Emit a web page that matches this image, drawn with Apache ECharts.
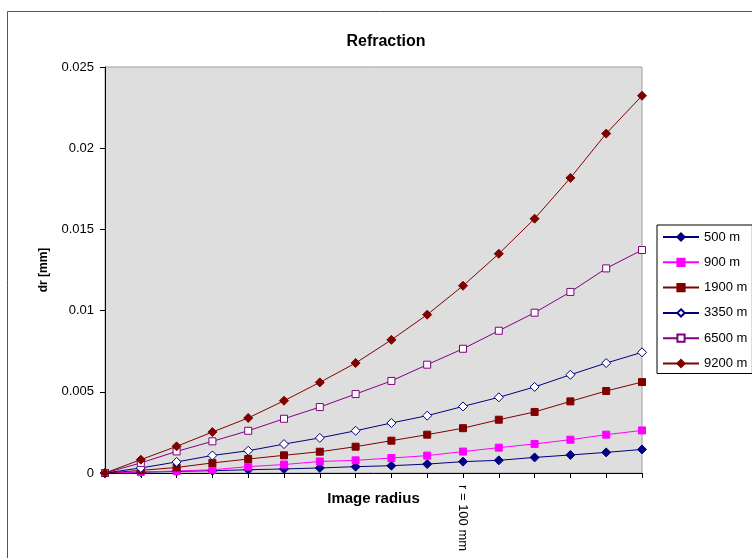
<!DOCTYPE html>
<html>
<head>
<meta charset="utf-8">
<script src="https://cdn.jsdelivr.net/npm/echarts@6/dist/echarts.min.js"></script>
<style>
  html, body { margin: 0; padding: 0; background: #ffffff; }
  #chart { width: 752px; height: 558px; }
</style>
</head>
<body>
<div id="chart"></div>
<script>
// Image radius samples (mm); only r = 100 mm gets a tick label
const radius = ['0', '10', '20', '30', '40', '50', '60', '70', '80', '90', '100', '110', '120', '130', '140', '150'];
const labelledRadius = '100';

// Radial refraction dr [mm] for each flying height
const dr500  = [0, 0.00005, 0.0001, 0.00014, 0.0002, 0.00025, 0.00031, 0.00039, 0.00045, 0.00055, 0.0007, 0.00078, 0.00096, 0.00111, 0.00127, 0.00145];
const dr900  = [0, 0.00006, 0.00012, 0.0002, 0.00039, 0.00052, 0.00071, 0.00078, 0.00092, 0.00107, 0.00132, 0.00156, 0.00179, 0.00205, 0.00236, 0.00262];
const dr1900 = [0, 0.00016, 0.00034, 0.00062, 0.00086, 0.00109, 0.00131, 0.00162, 0.00199, 0.00236, 0.00276, 0.00328, 0.00376, 0.00441, 0.00505, 0.0056];
const dr3350 = [0, 0.00031, 0.00068, 0.00108, 0.00137, 0.00178, 0.00216, 0.0026, 0.00308, 0.00353, 0.0041, 0.00466, 0.0053, 0.00605, 0.00677, 0.00743];
const dr6500 = [0, 0.00062, 0.00133, 0.00195, 0.0026, 0.00334, 0.00406, 0.00486, 0.00567, 0.00667, 0.00765, 0.00876, 0.00987, 0.01115, 0.0126, 0.01373];
const dr9200 = [0, 0.00082, 0.00164, 0.00252, 0.00339, 0.00445, 0.00558, 0.00677, 0.0082, 0.00975, 0.01153, 0.0135, 0.01566, 0.01817, 0.0209, 0.02323];

const seriesNames = ['500 m', '900 m', '1900 m', '3350 m', '6500 m', '9200 m'];
const yTicks = { min: 0, max: 0.025, interval: 0.005 };

const FONT = '"Liberation Sans", Arial, sans-serif';

function lineSeries(name, data, color, symbol, size, hollow) {
  return {
    name: name,
    type: 'line',
    data: data,
    symbol: symbol,
    symbolSize: size,
    showSymbol: true,
    lineStyle: { color: color, width: 1 },
    itemStyle: hollow
      ? { color: '#ffffff', borderColor: color, borderWidth: 1 }
      : { color: color, borderColor: color, borderWidth: 1 },
    emphasis: { disabled: true },
    animation: false,
    z: 3
  };
}

const chart = echarts.init(document.getElementById('chart'), null, { renderer: 'canvas' });

chart.setOption({
  backgroundColor: '#ffffff',
  animation: false,
  title: {
    text: 'Refraction',
    left: 381,
    top: 29,
    textAlign: 'center',
    textStyle: { fontFamily: FONT, fontSize: 16, fontWeight: 'bold', color: '#000000' }
  },
  graphic: [{
    type: 'rect',
    shape: { x: 7.5, y: 11.5, width: 900, height: 900 },
    style: { fill: 'none', stroke: '#555555', lineWidth: 1 },
    silent: true,
    z: -1
  }],
  grid: {
    left: 105, top: 67, right: 110, bottom: 85,
    show: true,
    backgroundColor: '#dedede',
    borderColor: '#a0a0a0',
    borderWidth: 1
  },
  legend: {
    orient: 'vertical',
    left: 657,
    top: 225,
    width: 93,
    padding: [5, 5, 3, 5],
    itemGap: 11.3,
    itemWidth: 36,
    itemHeight: 9,
    borderColor: '#000000',
    borderWidth: 1,
    backgroundColor: '#ffffff',
    textStyle: { fontFamily: FONT, fontSize: 13, color: '#000000', lineHeight: 14 },
    data: seriesNames
  },
  xAxis: {
    type: 'category',
    data: radius,
    boundaryGap: false,
    name: 'Image radius',
    nameLocation: 'middle',
    nameGap: 18,
    nameMoveOverlap: false,
    nameTextStyle: { fontFamily: FONT, fontSize: 15, fontWeight: 'bold', color: '#000000', verticalAlign: 'top' },
    axisLine: { lineStyle: { color: '#000000', width: 1 } },
    axisTick: { show: true, interval: 0, length: 5, lineStyle: { color: '#000000' } },
    axisLabel: {
      interval: 0,
      rotate: -90,
      margin: 12,
      fontFamily: FONT,
      fontSize: 13,
      color: '#000000',
      formatter: function (v) { return v === labelledRadius ? 'r = ' + v + ' mm' : ''; }
    },
    splitLine: { show: false }
  },
  yAxis: {
    type: 'value',
    min: yTicks.min,
    max: yTicks.max,
    interval: yTicks.interval,
    name: 'dr [mm]',
    nameLocation: 'middle',
    nameRotate: 90,
    nameGap: 55,
    nameMoveOverlap: false,
    nameTextStyle: { fontFamily: FONT, fontSize: 12, fontWeight: 'bold', color: '#000000' },
    axisLine: { show: true, lineStyle: { color: '#000000', width: 1 } },
    axisTick: { show: true, length: 5, lineStyle: { color: '#000000' } },
    axisLabel: { margin: 11, fontFamily: FONT, fontSize: 13, color: '#000000' },
    splitLine: { show: false }
  },
  series: [
    lineSeries(seriesNames[0], dr500,  '#000080', 'diamond', 9, false),
    lineSeries(seriesNames[1], dr900,  '#ff00ff', 'rect',    7, false),
    lineSeries(seriesNames[2], dr1900, '#800000', 'rect',    7, false),
    lineSeries(seriesNames[3], dr3350, '#000080', 'diamond', 9, true),
    lineSeries(seriesNames[4], dr6500, '#800080', 'rect',    7, true),
    lineSeries(seriesNames[5], dr9200, '#800000', 'diamond', 9, false)
  ]
});
</script>
</body>
</html>
